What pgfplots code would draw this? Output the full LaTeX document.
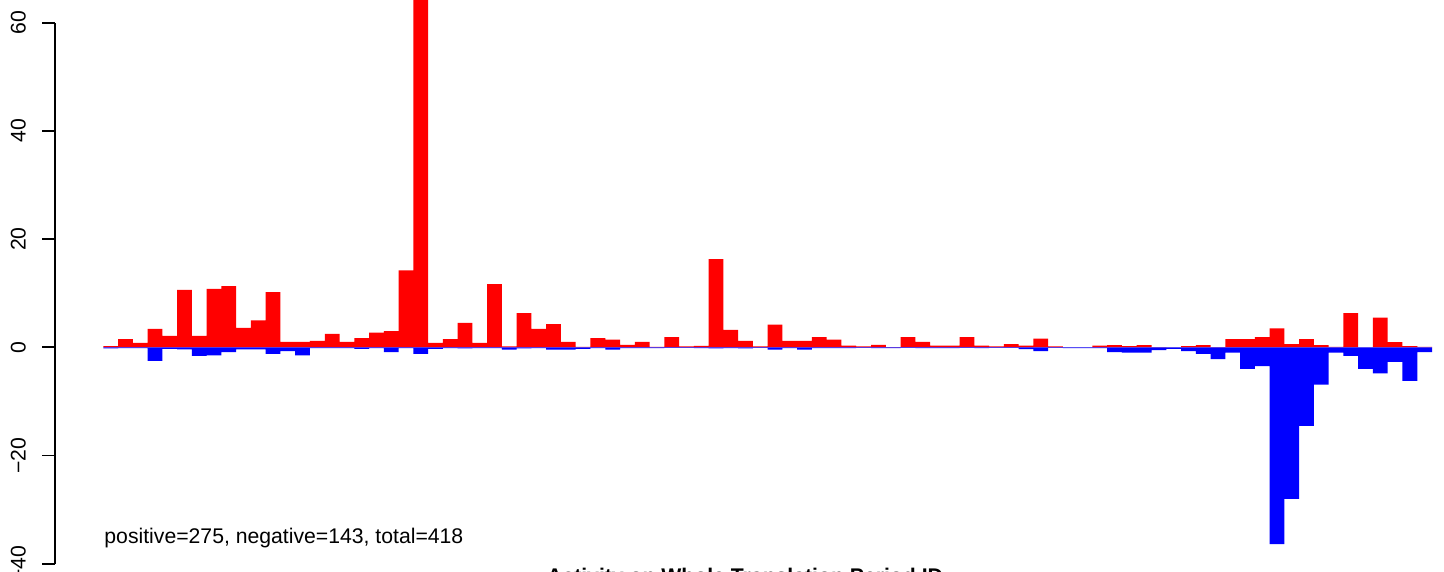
\documentclass[border=0pt]{standalone}
\usepackage{fontspec}
\setmainfont{Liberation Sans}
\usepackage{pgfplots}
\usepackage{pgfplotstable}
\pgfplotsset{compat=1.18}

% red = positive part, blue = negative part, one row per ID
\pgfplotstableread{
x pos neg
0.5 0.2 -0.2
1.5 1.5 -0.15
2.5 0.8 -0.15
3.5 3.4 -2.5
4.5 2.1 -0.3
5.5 10.6 -0.4
6.5 2.1 -1.6
7.5 10.8 -1.5
8.5 11.3 -0.9
9.5 3.6 -0.4
10.5 5.0 -0.4
11.5 10.2 -1.2
12.5 1.0 -0.7
13.5 1.0 -1.5
14.5 1.2 -0.15
15.5 2.5 -0.15
16.5 1.0 -0.15
17.5 1.7 -0.3
18.5 2.7 -0.15
19.5 3.0 -0.9
20.5 14.2 -0.15
21.5 75 -1.2
22.5 0.8 -0.3
23.5 1.5 -0.15
24.5 4.5 -0.2
25.5 0.8 -0.15
26.5 11.7 -0.15
27.5 0.15 -0.45
28.5 6.3 -0.2
29.5 3.4 -0.15
30.5 4.3 -0.45
31.5 1.0 -0.45
32.5 0.1 -0.3
33.5 1.7 -0.15
34.5 1.4 -0.45
35.5 0.45 -0.15
36.5 1.0 -0.15
37.5 0.1 -0.15
38.5 1.9 -0.1
39.5 0.15 -0.1
40.5 0.25 -0.15
41.5 16.3 -0.2
42.5 3.2 -0.15
43.5 1.2 -0.2
44.5 0.15 -0.1
45.5 4.2 -0.45
46.5 1.2 -0.15
47.5 1.2 -0.45
48.5 1.9 -0.15
49.5 1.4 -0.15
50.5 0.3 -0.15
51.5 0.15 -0.1
52.5 0.45 -0.15
53.5 0.05 -0.15
54.5 1.9 -0.1
55.5 1.0 -0.15
56.5 0.3 -0.15
57.5 0.3 -0.15
58.5 1.9 -0.1
59.5 0.3 -0.15
60.5 0.15 -0.1
61.5 0.6 -0.1
62.5 0.3 -0.35
63.5 1.6 -0.7
64.5 0.15 -0.1
65.5 0 -0.15
66.5 0 -0.15
67.5 0.3 -0.15
68.5 0.4 -0.9
69.5 0.2 -1.0
70.5 0.4 -1.0
71.5 0.05 -0.5
72.5 0 -0.3
73.5 0.2 -0.7
74.5 0.4 -1.2
75.5 0.05 -2.2
76.5 1.5 -1.0
77.5 1.5 -4.0
78.5 1.9 -3.5
79.5 3.5 -36.4
80.5 0.6 -28.0
81.5 1.5 -14.5
82.5 0.4 -6.9
83.5 0.1 -1.0
84.5 6.3 -1.6
85.5 0 -4.0
86.5 5.5 -4.8
87.5 0.95 -2.7
88.5 0.2 -6.2
89.5 0.1 -0.9
}\data

\begin{document}
\begin{tikzpicture}
\begin{axis}[
    scale only axis,
    width=688.35pt, height=285.5pt,
    xmin=-3.251, xmax=90,
    ymin=-41.35, ymax=64.2,
    clip=false,
    hide x axis,
    axis y line*=left,
    y axis line style={draw=none},
    ytick={-40,-20,0,20,40,60},
    yticklabels={−40,−20,0,20,40,60},
    tick align=outside,
    major tick length=6.5pt,
    tick style={black, line width=0.9pt},
    yticklabel style={rotate=90, anchor=south, inner sep=0pt,
        font=\fontsize{10.6}{12.7}\selectfont},
    yticklabel shift=8pt,
]
\addplot[ybar, bar width=1, bar shift=0pt, fill=red, draw=none]
    table[x=x, y=pos]{\data};
\addplot[ybar, bar width=1, bar shift=0pt, fill=blue, draw=none]
    table[x=x, y=neg]{\data};

\draw[line width=0.9pt] (axis cs:-3.251,-40) -- (axis cs:-3.251,60);

\node[anchor=base west, inner sep=0pt, font=\fontsize{10.6}{12.7}\selectfont]
    at (axis cs:0.05,-36.2) {positive=275, negative=143, total=418};
\node[anchor=base, inner sep=0pt, font=\fontsize{10.6}{12.7}\selectfont\bfseries]
    at (axis cs:43.47,-43.7) {Activity on Whole Translation Period ID};

\coordinate (bl) at (axis cs:-6.997,-41.35);
\coordinate (tr) at (axis cs:90.813,64.2);
\end{axis}
\pgfresetboundingbox
\path[use as bounding box] (bl) rectangle (tr);
\end{tikzpicture}
\end{document}
